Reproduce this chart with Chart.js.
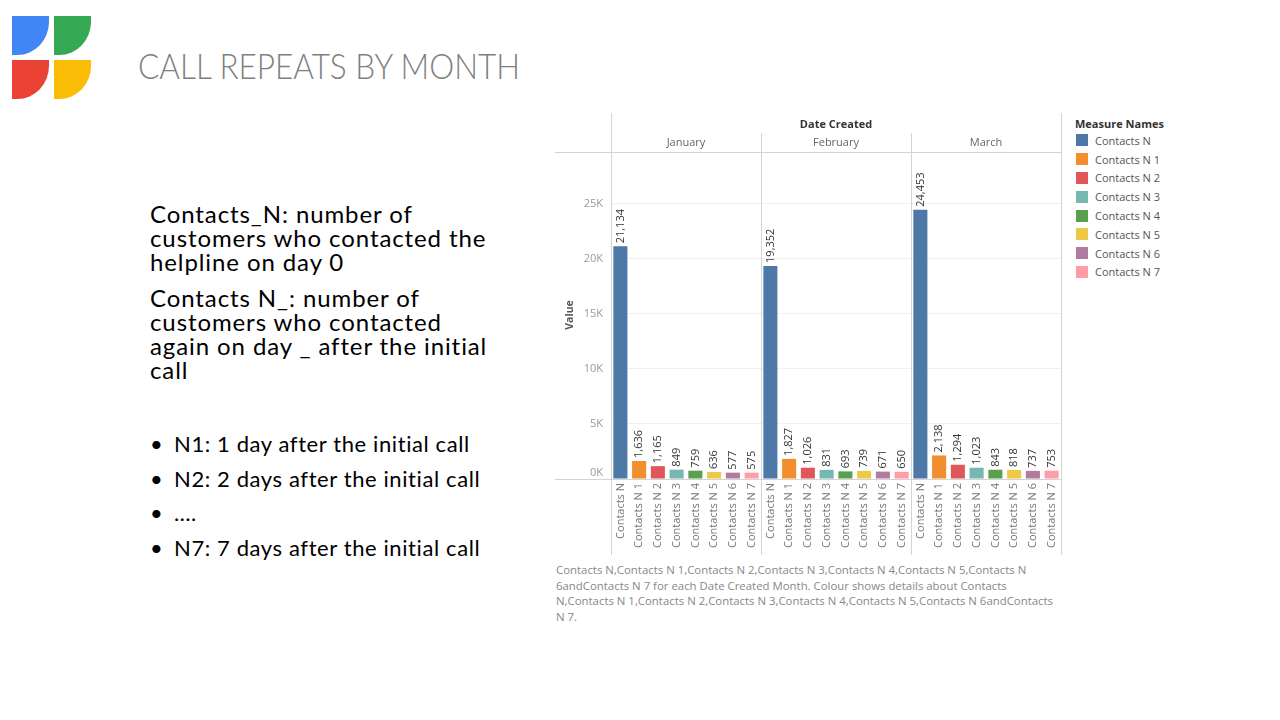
<!DOCTYPE html>
<html>
<head>
<meta charset="utf-8">
<script src="https://cdn.jsdelivr.net/npm/chart.js@4/dist/chart.umd.min.js"></script>
<style>
  html, body { margin: 0; padding: 0; background: #fff; }
  body { width: 1280px; height: 720px; position: relative; overflow: hidden; font-family: "Open Sans", sans-serif; }
  .logo div { position: absolute; width: 37px; height: 39px; border-bottom-right-radius: 85% 85%; }
  #title { position: absolute; left: 138px; top: 44px; font-family: Lato, sans-serif; font-weight: 300; font-size: 35px; color: #7f7f7f; white-space: nowrap; transform: scaleX(0.9); transform-origin: left top; }
  .para { position: absolute; left: 150px; font-family: Lato, sans-serif; font-size: 24px; line-height: 24px; letter-spacing: 0.9px; color: #000; white-space: nowrap; }
  .bullets { position: absolute; left: 148px; top: 430px; font-family: Lato, sans-serif; font-size: 22px; letter-spacing: 0.6px; color: #000; margin: 0; padding: 0; list-style: none; }
  .bullets li { height: 34.6px; white-space: nowrap; }
  .bullets li::before { content: "\2022"; display: inline-block; width: 24px; padding-left: 2px; }
  #wrap { position: absolute; left: 550px; top: 110px; width: 520px; height: 450px; }
  #legend { position: absolute; left: 1075px; top: 116px; font-size: 11px; color: #555; }
  #legend .hd { font-weight: 700; color: #333; margin-bottom: 0px; }
  #legend .it { height: 18.8px; display: flex; align-items: center; }
  #legend .sw { width: 12px; height: 12px; margin: 0 7px 0 1px; }
  #caption { position: absolute; left: 556px; top: 562px; font-size: 11.4px; line-height: 15.6px; color: #888; white-space: nowrap; }
</style>
</head>
<body>
<div class="logo">
  <div style="left:12px;top:16px;background:#4285f4"></div>
  <div style="left:54px;top:16px;background:#34a853"></div>
  <div style="left:12px;top:60px;background:#ea4335"></div>
  <div style="left:54px;top:60px;background:#fbbc05"></div>
</div>
<div id="title">CALL REPEATS BY MONTH</div>

<div class="para" style="top:202px">Contacts_N: number of<br>customers who contacted the<br>helpline on day 0</div>
<div class="para" style="top:286px">Contacts N_: number of<br>customers who contacted<br>again on day _ after the initial<br>call</div>
<ul class="bullets">
  <li>N1: 1 day after the initial call</li>
  <li>N2: 2 days after the initial call</li>
  <li>….</li>
  <li>N7: 7 days after the initial call</li>
</ul>

<div id="wrap"><canvas id="chart" width="520" height="450"></canvas></div>
<div id="legend"></div>
<div id="caption">Contacts N,Contacts N 1,Contacts N 2,Contacts N 3,Contacts N 4,Contacts N 5,Contacts N<br>6andContacts N 7 for each Date Created Month. Colour shows details about Contacts<br>N,Contacts N 1,Contacts N 2,Contacts N 3,Contacts N 4,Contacts N 5,Contacts N 6andContacts<br>N 7.</div>

<script>
// data
const months = ["January", "February", "March"];
const measures = ["Contacts N", "Contacts N 1", "Contacts N 2", "Contacts N 3", "Contacts N 4", "Contacts N 5", "Contacts N 6", "Contacts N 7"];
const janValues = [21134, 1636, 1165, 849, 759, 636, 577, 575];
const febValues = [19352, 1827, 1026, 831, 693, 739, 671, 650];
const marValues = [24453, 2138, 1294, 1023, 843, 818, 737, 753];
const yTicks = [0, 5000, 10000, 15000, 20000, 25000];
const yMax = 29700;

const colors = ["#4e79a7", "#f28e2b", "#e15759", "#76b7b2", "#59a14f", "#edc948", "#b07aa1", "#ff9da7"];
const FONT = "'Open Sans', sans-serif";

// legend
const legend = document.getElementById("legend");
legend.innerHTML = '<div class="hd">Measure Names</div>' +
  measures.map((m, i) => `<div class="it"><span class="sw" style="background:${colors[i]}"></span>${m}</div>`).join("");

const labels = [], values = [], barColors = [];
[janValues, febValues, marValues].forEach(arr => {
  arr.forEach((v, i) => { labels.push(measures[i]); values.push(v); barColors.push(colors[i]); });
});

// panel frame, header, value labels
const framePlugin = {
  id: "frame",
  afterDraw(chart) {
    const ctx = chart.ctx, a = chart.chartArea, x = chart.scales.x;
    const n = measures.length;
    const bounds = [a.left];
    for (let m = 1; m <= months.length; m++) {
      bounds.push(m === months.length ? a.right : (x.getPixelForValue(m * n - 1) + x.getPixelForValue(m * n)) / 2);
    }
    ctx.save();
    ctx.strokeStyle = "#d4d4d4";
    ctx.lineWidth = 1;
    // horizontal lines
    ctx.beginPath();
    ctx.moveTo(5, Math.round(a.top) + 0.5); ctx.lineTo(a.right, Math.round(a.top) + 0.5);
    ctx.moveTo(5, Math.round(a.bottom) + 0.5); ctx.lineTo(a.right, Math.round(a.bottom) + 0.5);
    ctx.stroke();
    // vertical lines
    ctx.beginPath();
    bounds.forEach((bx, i) => {
      const px = Math.round(bx) + 0.5;
      const top = (i === 0 || i === bounds.length - 1) ? 3 : 23;
      ctx.moveTo(px, top); ctx.lineTo(px, chart.height - 5);
    });
    ctx.stroke();
    // header
    ctx.fillStyle = "#333";
    ctx.font = "bold 11px " + FONT;
    ctx.textAlign = "center"; ctx.textBaseline = "middle";
    ctx.fillText("Date Created", (a.left + a.right) / 2, 15);
    ctx.font = "11px " + FONT;
    ctx.fillStyle = "#666";
    months.forEach((m, i) => ctx.fillText(m, (bounds[i] + bounds[i + 1]) / 2, 33));
    // axis title
    ctx.save();
    ctx.translate(20, 205);
    ctx.rotate(-Math.PI / 2);
    ctx.font = "bold 10.5px " + FONT;
    ctx.fillStyle = "#555";
    ctx.fillText("Value", 0, 0);
    ctx.restore();
    // value labels
    const meta = chart.getDatasetMeta(0);
    ctx.font = "11px " + FONT;
    ctx.fillStyle = "#333";
    ctx.textAlign = "left";
    meta.data.forEach((bar, i) => {
      ctx.save();
      ctx.translate(bar.x, bar.y - 3);
      ctx.rotate(-Math.PI / 2);
      ctx.fillText(values[i].toLocaleString("en-US"), 0, 0);
      ctx.restore();
    });
    ctx.restore();
  }
};

new Chart(document.getElementById("chart"), {
  type: "bar",
  data: {
    labels: labels,
    datasets: [{ data: values, backgroundColor: barColors, categoryPercentage: 1, barPercentage: 0.75 }]
  },
  options: {
    responsive: false,
    maintainAspectRatio: false,
    animation: false,
    layout: { padding: { top: 42, right: 9, left: 0, bottom: 0 } },
    plugins: { legend: { display: false }, tooltip: { enabled: false } },
    scales: {
      x: {
        grid: { display: false, drawTicks: false },
        border: { display: false },
        ticks: { minRotation: 90, maxRotation: 90, autoSkip: false, padding: 4, color: "#777", font: { family: FONT, size: 11 } },
        afterFit(s) { s.height = 81; }
      },
      y: {
        min: 0, max: yMax,
        grid: { color: "#f0f0f0", drawTicks: false },
        border: { display: false },
        afterBuildTicks(s) { s.ticks = yTicks.map(v => ({ value: v })); },
        ticks: { padding: 8, color: "#999", font: { family: FONT, size: 11 },
          // the zero label sits just above the baseline, as in the source
          callback: v => v === 0 ? ["0K", ""] : (v / 1000) + "K" },
        afterFit(s) { s.width = 61; }
      }
    }
  },
  plugins: [framePlugin]
});
</script>
</body>
</html>
